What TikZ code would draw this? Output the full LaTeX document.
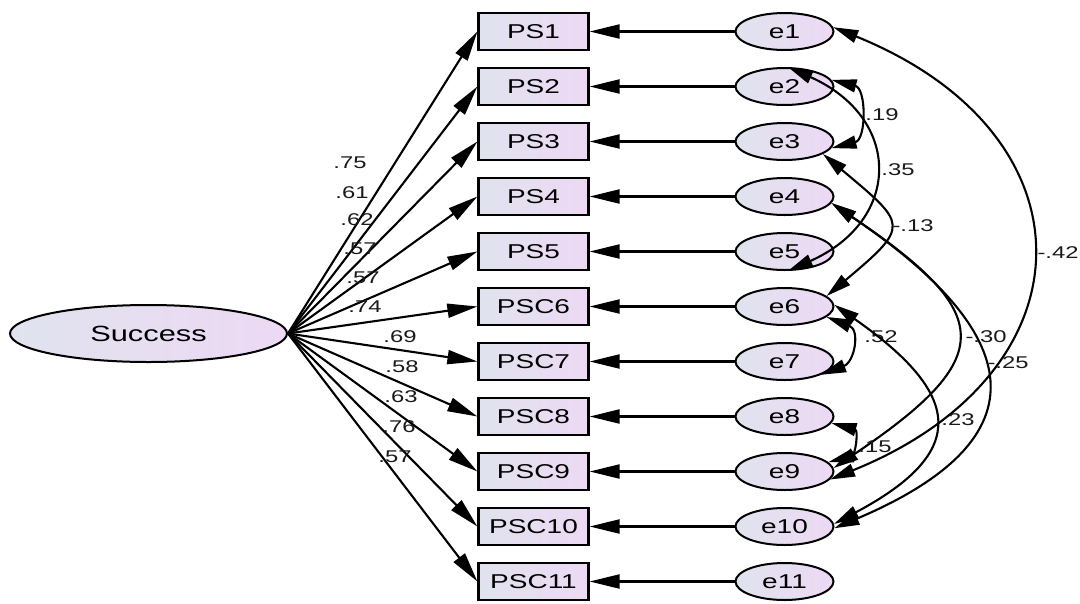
\documentclass[tikz,border=0pt]{standalone}
\usepackage{fontspec}
\setmainfont{Liberation Sans}[FakeStretch=1.4]
\usetikzlibrary{arrows.meta,shapes.geometric}

\definecolor{fillL}{RGB}{224,227,238}
\definecolor{fillR}{RGB}{237,217,244}

\tikzset{
  obsbox/.style={draw, line width=2.2pt, minimum width=110pt, minimum height=37pt,
    inner sep=0pt, left color=fillL, right color=fillR,
    font=\fontsize{20}{22}\selectfont},
  errnode/.style={ellipse, draw, line width=2pt, minimum width=98pt,
    minimum height=37pt, inner sep=0pt, left color=fillL, right color=fillR,
    font=\fontsize{20}{22}\selectfont},
  latentnode/.style={ellipse, draw, line width=2pt, minimum width=277pt,
    minimum height=57pt, inner sep=0pt, left color=fillL, right color=fillR,
    font=\fontsize{22}{24}\selectfont},
  regr/.style={line width=2.1pt, -{Triangle[length=30pt,width=14pt]}},
  covar/.style={line width=2.1pt,
    {Triangle[length=25pt,width=13pt]}-{Triangle[length=25pt,width=13pt]}},
  wlabel/.style={inner sep=1pt, text=black!90, font=\fontsize{17}{19}\selectfont}
}

\begin{document}
\begin{tikzpicture}[x=1pt, y=-1pt]
  \useasboundingbox (0,0) rectangle (1080,603);

  \node[latentnode] (success) at (148.5,333.5) {Success};

  % indicators and their errors
  \foreach \n/\t in {1/PS1,2/PS2,3/PS3,4/PS4,5/PS5,6/PSC6,7/PSC7,8/PSC8,9/PSC9,10/PSC10,11/PSC11}{
    \node[obsbox] (ps\n) at (533.5,{31.5+55*(\n-1)}) {\t};
    \node[errnode] (e\n) at (784.5,{31.5+55*(\n-1)}) {e\n};
    \draw[regr] (e\n.west) -- (ps\n.east);
    \draw[regr] (success.east) -- (ps\n.west);
  }

  % loadings
  \foreach \n/\v/\x/\y in {1/.75/350/163, 2/.61/352/193, 3/.62/357/220,
      4/.57/360/249, 5/.57/363/278, 6/.74/365/307, 7/.69/400/337,
      8/.58/402/367, 9/.63/401/397, 10/.76/399/427, 11/.57/395/457}
    \node[wlabel] (w\n) at (\x,\y) {\v};

  % error covariances
  \draw[covar] (e2.8) .. controls +(-14:36pt) and +(14:36pt) .. (e3.-8);
  \node[wlabel] (c23) at (882,115) {.19};

  \draw[covar] (e2.80) .. controls +(-24:125pt) and +(24:125pt) .. (e5.-80);
  \node[wlabel] (c25) at (898,170) {.35};

  \draw[covar] (e3.-18) .. controls +(-40:110pt) and +(40:110pt) .. (e6.14);
  \node[wlabel] (c36) at (913,226) {-.13};

  \draw[covar] (e1.5) .. controls +(-22:286pt) and +(22:286pt) .. (e9.-10);
  \node[wlabel] (c19) at (1058,253) {-.42};

  \draw[covar] (e6.-14) .. controls +(-21:36pt) and +(21:36pt) .. (e7.-20);
  \node[wlabel] (c67) at (881,337) {.52};

  \draw[covar] (e4.-8) .. controls +(-34:198pt) and +(34:198pt) .. (e9.4);
  \node[wlabel] (c49) at (986,337) {-.30};

  \draw[covar] (e4.-8) .. controls +(-34:232pt) and +(23:232pt) .. (e10.-2);
  \node[wlabel] (c410) at (1008,363) {-.25};

  \draw[covar] (e6.2) .. controls +(-35:155pt) and +(28:155pt) .. (e10.3);
  \node[wlabel] (c610) at (958,420) {.23};

  \draw[covar] (e8.-8) .. controls +(-15:28pt) and +(15:28pt) .. (e9.12);
  \node[wlabel] (c89) at (875,447) {.15};
\end{tikzpicture}
\end{document}
